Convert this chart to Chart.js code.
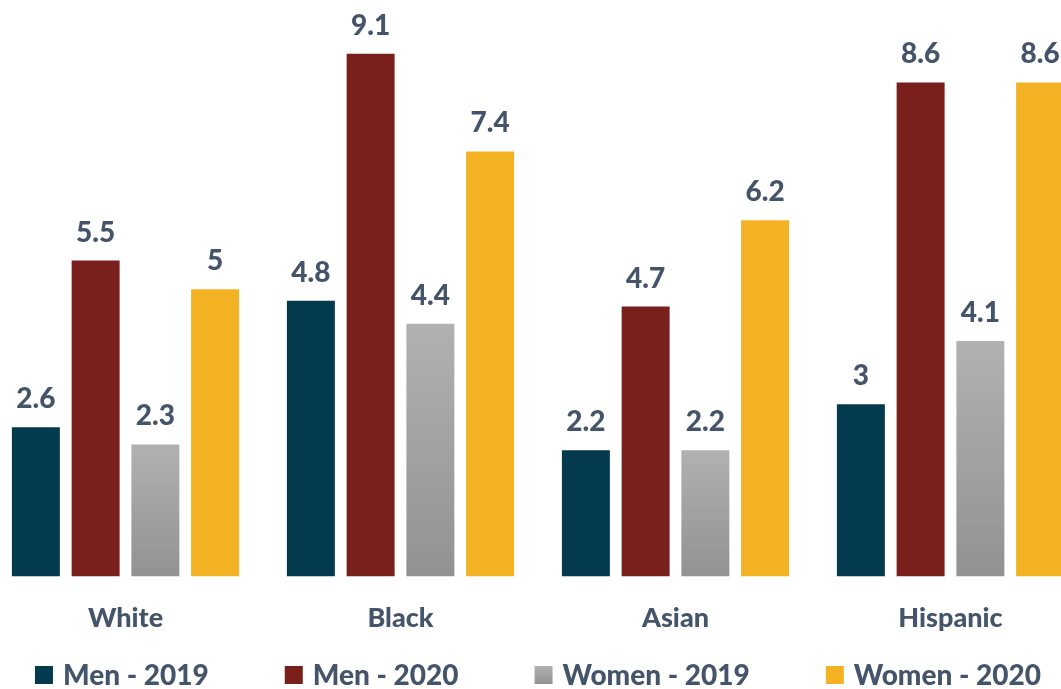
<!DOCTYPE html>
<html>
<head>
<meta charset="utf-8">
<script src="https://cdn.jsdelivr.net/npm/chart.js@4/dist/chart.umd.min.js"></script>
<style>
  html, body { margin: 0; padding: 0; background: #fff; overflow: hidden; }
  #wrap { position: absolute; left: -12.5px; top: 0; width: 1100px; height: 689px; }
</style>
</head>
<body>
<div id="wrap"><canvas id="chart"></canvas></div>
<script>
const categories = ["White", "Black", "Asian", "Hispanic"];
const seriesNames = ["Men - 2019", "Men - 2020", "Women - 2019", "Women - 2020"];
const men2019 = [2.6, 4.8, 2.2, 3];
const men2020 = [5.5, 9.1, 4.7, 8.6];
const women2019 = [2.3, 4.4, 2.2, 4.1];
const women2020 = [5, 7.4, 6.2, 8.6];

const TEXT = "#44546A";
const FONT = "Lato, 'Open Sans', sans-serif";
const COLORS = ["#033A4E", "#791F1C", null, "#F3B124"];

// light-to-dark vertical gradient between two y pixels
function grayGradient(ctx, top, bottom) {
  const g = ctx.createLinearGradient(0, top, 0, bottom);
  g.addColorStop(0, "#b1b1b1");
  g.addColorStop(1, "#929292");
  return g;
}

function grayFill(context) {
  const chart = context.chart;
  const area = chart.chartArea;
  if (!area || context.raw === undefined) return "#a3a3a3";
  const top = chart.scales.y.getPixelForValue(context.raw);
  return grayGradient(chart.ctx, top, area.bottom);
}

const valueLabels = {
  id: "valueLabels",
  afterDatasetsDraw(chart) {
    const ctx = chart.ctx;
    ctx.save();
    ctx.font = "900 28px " + FONT;
    ctx.fillStyle = TEXT;
    ctx.textAlign = "center";
    ctx.textBaseline = "alphabetic";
    chart.data.datasets.forEach((ds, i) => {
      chart.getDatasetMeta(i).data.forEach((bar, j) => {
        ctx.fillText(String(ds.data[j]), bar.x, bar.y - 19);
      });
    });
    ctx.restore();
  }
};

// legend row along the bottom, centred on the canvas
const bottomLegend = {
  id: "bottomLegend",
  afterDraw(chart) {
    const ctx = chart.ctx;
    const box = 18, gap = 10, spacing = 76;
    ctx.save();
    ctx.font = "900 28px " + FONT;
    const widths = seriesNames.map(n => ctx.measureText(n).width);
    const total = widths.reduce((a, w) => a + box + gap + w, 0) + spacing * (seriesNames.length - 1);
    let x = (chart.width - total) / 2;
    const baseline = chart.height - 4;
    seriesNames.forEach((name, i) => {
      const top = baseline - 19;
      ctx.fillStyle = COLORS[i] || grayGradient(ctx, top, top + box);
      ctx.fillRect(x, top, box, box);
      x += box + gap;
      ctx.fillStyle = TEXT;
      ctx.textBaseline = "alphabetic";
      ctx.fillText(name, x, baseline);
      x += widths[i] + spacing;
    });
    ctx.restore();
  }
};

new Chart(document.getElementById("chart"), {
  type: "bar",
  data: {
    labels: categories,
    datasets: [
      { label: seriesNames[0], data: men2019, backgroundColor: COLORS[0] },
      { label: seriesNames[1], data: men2020, backgroundColor: COLORS[1] },
      { label: seriesNames[2], data: women2019, backgroundColor: grayFill },
      { label: seriesNames[3], data: women2020, backgroundColor: COLORS[3] }
    ]
  },
  options: {
    responsive: true,
    maintainAspectRatio: false,
    animation: false,
    datasets: {
      bar: { categoryPercentage: 0.869, barPercentage: 0.803 }
    },
    layout: { padding: { top: 2, bottom: 38 } },
    plugins: {
      tooltip: { enabled: false },
      legend: { display: false }
    },
    scales: {
      x: {
        grid: { display: false },
        border: { display: false },
        ticks: {
          color: TEXT,
          font: { family: FONT, size: 27, weight: "900" },
          padding: 17
        }
      },
      y: {
        display: false,
        min: 0,
        max: 10
      }
    }
  },
  plugins: [valueLabels, bottomLegend]
});
</script>
</body>
</html>
